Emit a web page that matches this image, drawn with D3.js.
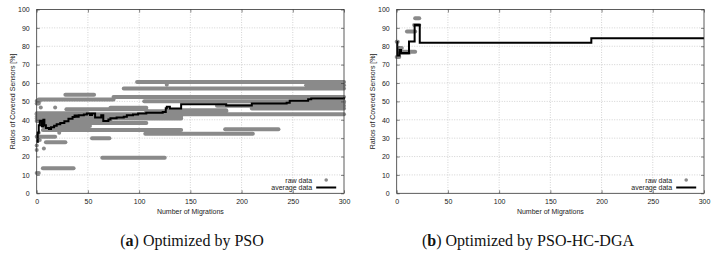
<!DOCTYPE html>
<html>
<head>
<meta charset="utf-8">
<script src="https://cdn.jsdelivr.net/npm/d3@7"></script>
<style>
  body { margin: 0; background: #fff; }
  svg { display: block; }
  .tick-label, .axis-title, .legend-text { font-family: "Liberation Sans", Arial, sans-serif; font-size: 7px; fill: #222; }
  .caption { font-family: "Liberation Serif", "DejaVu Serif", serif; font-size: 16px; fill: #111; }
</style>
</head>
<body>
<div id="chart-area"></div>
<script>
var xTicks = [0, 50, 100, 150, 200, 250, 300];
var yTicks = [0, 10, 20, 30, 40, 50, 60, 70, 80, 90, 100];

// raw data runs as [from, to, value]
var rawPSO = [
  [0, 300, 43.0], [98, 300, 60.6], [85, 300, 57.0], [263, 300, 58.8],
  [75, 300, 52.4], [2, 75, 51.0], [0, 3, 50.2], [28, 56, 53.6],
  [105, 300, 50.1], [244, 300, 49.3], [176, 300, 47.7], [210, 300, 46.2],
  [29, 107, 45.7], [72, 107, 46.6], [107, 185, 44.7], [127, 185, 45.2],
  [0, 50, 43.6], [0, 141, 41.6], [0, 141, 40.7], [0, 72, 39.4],
  [6, 107, 38.2], [6, 52, 36.6], [12, 42, 35.4], [6, 141, 34.4],
  [106, 211, 32.4], [184, 236, 34.8], [54, 71, 30.0], [0, 18, 30.7],
  [9, 28, 27.8], [64, 125, 19.3], [6, 36, 13.6], [0, 2, 48.8]
];
var dotsPSO = [
  [0, 11], [2, 11], [4, 46.7], [18, 46.7], [22, 32.9], [7, 24.4],
  [127, 59], [0, 23.5], [0, 26], [1, 28.5], [1, 31.5], [2, 33], [3, 29]
];
var avgPSO = [
  [0, 28], [1, 33], [2, 37], [3, 39.5], [5, 36.5], [6.5, 40], [7.5, 37],
  [9, 35.5], [12, 35], [14, 36], [17, 36.8], [19.5, 37.6], [23, 38.3],
  [27, 39.2], [31, 40.5], [35, 41.5], [37, 42.3], [39, 41.7], [41, 42.5],
  [46, 42.9], [49, 43.4], [52, 42.6], [54, 43.4], [57, 41.2], [63, 42.4],
  [65, 39.4], [70, 40.2], [72, 40.8], [78, 41.3], [85, 41.7], [88, 42.4],
  [94, 42.9], [99, 43.4], [107, 43.8], [123, 44.2], [126, 46.3], [127, 47.1],
  [130, 46.2], [141, 48.5], [185, 47.8], [210, 48.8], [244, 49.3], [247, 50.3],
  [265, 51.2], [268, 51.6], [300, 52.3]
];

var rawHC = [
  [0, 1, 82.5], [0, 2.5, 74.2], [3, 5, 79], [5, 10, 77], [11, 18, 77],
  [10, 18, 88], [18, 22, 95.3], [3, 12, 76.4], [17, 22, 91.6]
];
var dotsHC = [];
var avgHC = [
  [0, 82.3], [0.6, 75], [2.8, 78], [4.2, 76.4], [12, 82.6], [17.5, 91.6],
  [22.5, 81.9], [190, 84.4], [300, 84.4]
];

var svgWidth = 715, svgHeight = 272;
var gray = "#8a8a8a";

var svg = d3.select("#chart-area")
            .append("svg")
            .attr("width", svgWidth)
            .attr("height", svgHeight);

svg.append("rect").attr("width", svgWidth).attr("height", svgHeight).attr("fill", "#fff");

function drawPanel(left, raw, dots, avg, caption, bold, captionX) {
  var top = 9.5, bottom = 193.3, width = 307.3;
  var x = d3.scaleLinear().domain([0, 300]).range([left, left + width]);
  var y = d3.scaleLinear().domain([0, 100]).range([bottom, top]);
  var g = svg.append("g");

  // grid
  g.selectAll(".gx").data(xTicks.slice(1, -1)).enter().append("line")
   .attr("x1", function(d) { return x(d); }).attr("x2", function(d) { return x(d); })
   .attr("y1", top).attr("y2", bottom)
   .attr("stroke", "#b5b5b5").attr("stroke-width", 0.6).attr("stroke-dasharray", "1,1.5");
  g.selectAll(".gy").data(yTicks.slice(1, -1)).enter().append("line")
   .attr("x1", x(0)).attr("x2", x(300))
   .attr("y1", function(d) { return y(d); }).attr("y2", function(d) { return y(d); })
   .attr("stroke", "#b5b5b5").attr("stroke-width", 0.6).attr("stroke-dasharray", "1,1.5");

  // raw data
  g.selectAll(".raw").data(raw).enter().append("line")
   .attr("x1", function(d) { return x(d[0]); })
   .attr("x2", function(d) { return x(d[1]); })
   .attr("y1", function(d) { return y(d[2]); })
   .attr("y2", function(d) { return y(d[2]); })
   .attr("stroke", gray).attr("stroke-width", 4).attr("stroke-linecap", "round");
  g.selectAll(".dot").data(dots).enter().append("circle")
   .attr("cx", function(d) { return x(d[0]); })
   .attr("cy", function(d) { return y(d[1]); })
   .attr("r", 2).attr("fill", gray);

  // average line
  var line = d3.line()
               .x(function(d) { return x(d[0]); })
               .y(function(d) { return y(d[1]); })
               .curve(d3.curveStepAfter);
  g.append("path").datum(avg)
   .attr("d", line)
   .attr("fill", "none").attr("stroke", "#000").attr("stroke-width", 2);

  // border
  g.append("rect")
   .attr("x", x(0)).attr("y", top)
   .attr("width", width).attr("height", bottom - top)
   .attr("fill", "none").attr("stroke", "#333").attr("stroke-width", 0.8);

  // axes (ticks inward, mirrored)
  var ax = [
    d3.axisBottom(x).tickValues(xTicks).tickSize(-3).tickPadding(6),
    d3.axisTop(x).tickValues(xTicks).tickSize(-3).tickFormat(""),
    d3.axisLeft(y).tickValues(yTicks).tickSize(-3).tickPadding(7),
    d3.axisRight(y).tickValues(yTicks).tickSize(-3).tickFormat("")
  ];
  var pos = ["translate(0," + bottom + ")", "translate(0," + top + ")",
             "translate(" + x(0) + ",0)", "translate(" + x(300) + ",0)"];
  ax.forEach(function(a, i) {
    var ag = g.append("g").attr("transform", pos[i]).call(a);
    ag.select(".domain").remove();
    ag.selectAll(".tick line").attr("stroke", "#333").attr("stroke-width", 0.6);
    ag.selectAll(".tick text").attr("class", "tick-label").attr("fill", "#222");
  });

  g.append("text").attr("class", "axis-title")
   .attr("x", x(150)).attr("y", 213.5).attr("text-anchor", "middle")
   .text("Number of Migrations");
  g.append("text").attr("class", "axis-title")
   .attr("transform", "translate(" + (left - 22) + "," + ((top + bottom) / 2) + ") rotate(-90)")
   .attr("text-anchor", "middle")
   .text("Ratios of Covered Sensors [%]");

  // legend
  var lx = x(0) + 275.5;
  g.append("text").attr("class", "legend-text").attr("x", lx).attr("y", 182.5)
   .attr("text-anchor", "end").text("raw data");
  g.append("circle").attr("cx", lx + 14).attr("cy", 180).attr("r", 1.8).attr("fill", gray);
  g.append("text").attr("class", "legend-text").attr("x", lx).attr("y", 190)
   .attr("text-anchor", "end").text("average data");
  g.append("line").attr("x1", lx + 4).attr("x2", lx + 24).attr("y1", 187.5).attr("y2", 187.5)
   .attr("stroke", "#000").attr("stroke-width", 2);

  // caption
  var cap = svg.append("text").attr("class", "caption")
               .attr("x", captionX).attr("y", 246).attr("text-anchor", "middle");
  cap.append("tspan").text("(");
  cap.append("tspan").attr("font-weight", "bold").text(bold);
  cap.append("tspan").text(") " + caption);
}

drawPanel(36.7, rawPSO, dotsPSO, avgPSO, "Optimized by PSO", "a", 192);
drawPanel(396.7, rawHC, dotsHC, avgHC, "Optimized by PSO-HC-DGA", "b", 528);
</script>
</body>
</html>
